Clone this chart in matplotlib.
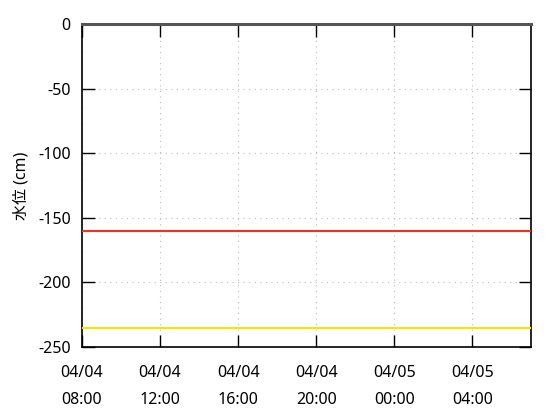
import matplotlib
matplotlib.use('Agg')
from matplotlib import pyplot as plt
import matplotlib.dates as mdates
import pandas as pd

plt.rcParams['font.family'] = ['Noto Sans', 'Noto Sans CJK JP', 'DejaVu Sans']
plt.rcParams['axes.unicode_minus'] = False

times = pd.date_range('2024-04-04 08:00', '2024-04-05 07:00', freq='h')
ground_level = [0] * len(times)
warn_level = [-160] * len(times)
caution_level = [-235] * len(times)

fig = plt.figure(figsize=(5.6, 4.2), dpi=100)
ax = fig.add_axes([0.1464, 0.174, 0.8018, 0.769])

ax.plot(times, ground_level, color='#555555', lw=2.2, zorder=3, clip_on=False)
ax.plot(times, warn_level, color='#ee3322', lw=1.5, zorder=3)
ax.plot(times, caution_level, color='#f2e600', lw=1.5, zorder=3)

ax.set_xlim(times[0], times[-1])
ax.set_ylim(-250, 0)
ax.set_yticks([0, -50, -100, -150, -200, -250])
ax.xaxis.set_major_locator(mdates.HourLocator(byhour=[0, 4, 8, 12, 16, 20]))
ax.xaxis.set_major_formatter(mdates.DateFormatter('%m/%d\n%H:%M'))

ax.tick_params(direction='in', length=9, width=1, top=True, right=True,
               labelsize=11.5)
ax.tick_params(axis='x', pad=13)
ax.tick_params(axis='y', pad=8)
for lbl in ax.get_xticklabels():
    lbl.set_linespacing(1.9)
ax.grid(True, linestyle=(0, (1, 4)), color='#bbbbbb', lw=0.8)
for s in ax.spines.values():
    s.set_linewidth(1.2)

ax.set_ylabel('水位 (cm)', fontsize=11.5, labelpad=6)

fig.savefig('out.png', dpi=100)
